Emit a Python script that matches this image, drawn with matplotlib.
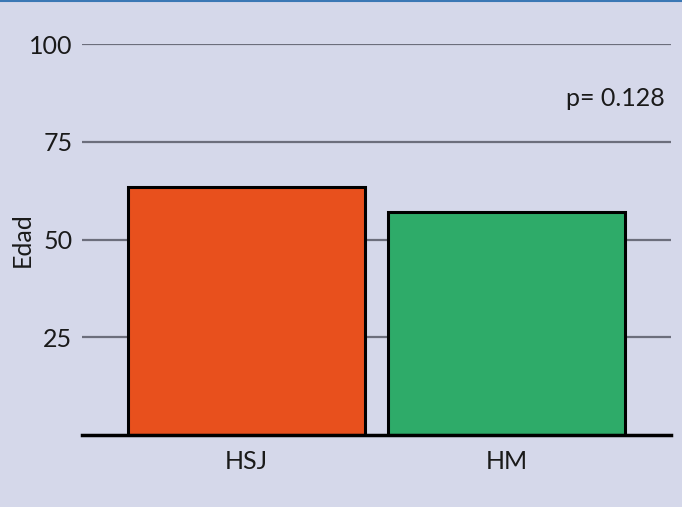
import matplotlib.pyplot as plt
import numpy as np

plt.rcParams['font.family'] = ['Lato', 'DejaVu Sans']

# data
grupos = ['HSJ', 'HM']
edad = [63.5, 57.0]
colores = ['#e8501d', '#2eab69']
p_valor = 'p= 0.128'

bg = '#d5d8ea'
txt = '#1a1a1a'
fig = plt.figure(figsize=(6.82, 5.07), dpi=100, facecolor=bg)
ax = fig.add_axes([82 / 682, 1 - 435 / 507, 589 / 682, 391 / 507])
ax.set_facecolor(bg)

x = np.arange(len(grupos))
ax.bar(x, edad, width=0.91, color=colores, edgecolor='black', linewidth=2.2, zorder=3)

ax.set_ylim(0, 100)
ax.set_xlim(-0.633, 1.633)
ax.set_yticks([25, 50, 75, 100])
ax.set_yticklabels(['25', '50', '75', '100'])
ax.set_xticks(x)
ax.set_xticklabels(grupos)
ax.tick_params(axis='both', length=0, labelsize=18, colors=txt)
ax.tick_params(axis='y', pad=7)
ax.tick_params(axis='x', pad=11)
ax.yaxis.grid(True, color='#6c6e7c', linewidth=1.6, zorder=1)

for s in ['top', 'right', 'left']:
    ax.spines[s].set_visible(False)
ax.spines['bottom'].set_linewidth(2.5)
ax.spines['bottom'].set_zorder(4)

ax.set_ylabel('Edad', fontsize=18, color=txt)
ax.yaxis.set_label_coords(-0.082, 0.5)
ax.text(0.99, 0.86, p_valor, transform=ax.transAxes, ha='right', va='center',
        fontsize=18, color=txt)

# thin blue line along the top edge of the figure
fig.add_artist(plt.Line2D([0, 1], [0.998, 0.998], color='#3b78b5', linewidth=1.5))

fig.savefig('out.png', dpi=100, facecolor=bg)
